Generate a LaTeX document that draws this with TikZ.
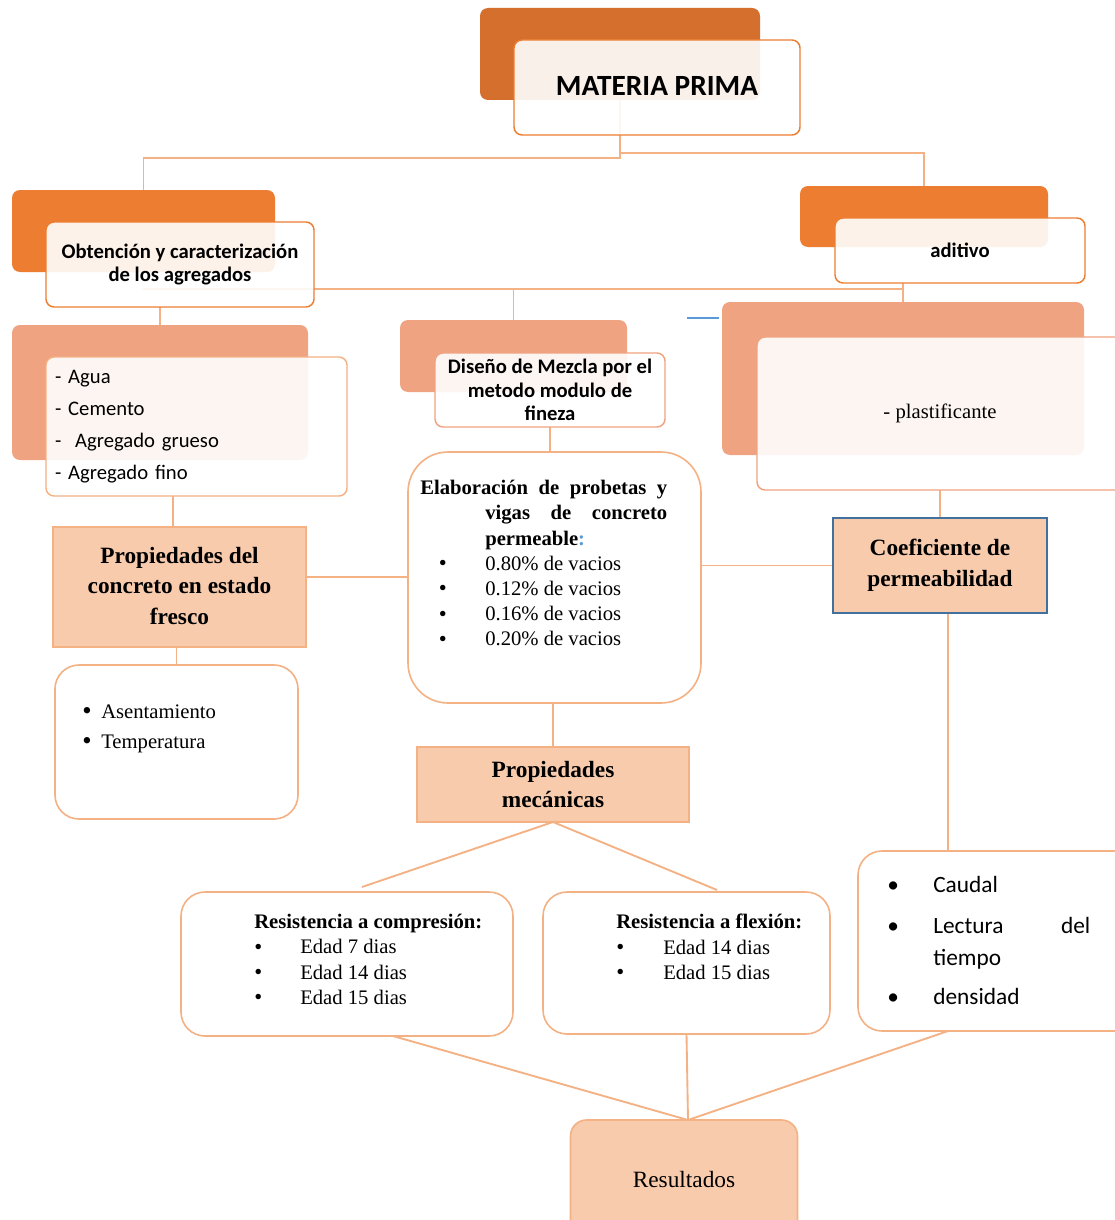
\documentclass[tikz,border=0pt]{standalone}
\usepackage{fontspec}
\setmainfont{Liberation Serif}
\newfontfamily\calibri{Carlito}
\usetikzlibrary{positioning,backgrounds}

\definecolor{dkorange}{RGB}{213,111,46}
\definecolor{midorange}{RGB}{237,125,49}
\definecolor{salmon}{RGB}{240,163,129}
\definecolor{peach}{RGB}{248,203,173}
\definecolor{lineor}{RGB}{244,177,131}
\definecolor{boxblue}{RGB}{65,113,156}
\definecolor{linkblue}{RGB}{91,155,213}

\newcommand\bigbul{\raisebox{-0.3pt}{\fontsize{17pt}{17pt}\selectfont\textbullet}}
\newcommand\wideblt{\raisebox{-0.6pt}{\fontsize{20pt}{20pt}\selectfont\textbullet}}

\tikzset{
	wh/.style 2 args={minimum width=#1*0.75pt,minimum height=#2*0.75pt},
	back/.style={rectangle,rounded corners=6pt,inner sep=0pt,outer sep=0pt},
	front/.style={rectangle,rounded corners=6pt,draw=#1,line width=1.1pt,fill=white,fill opacity=0.9,text opacity=1,inner sep=0pt,outer sep=0pt,align=center},
	front/.default=midorange,
	stitle/.style={font=\calibri\fontsize{15.5pt}{17.5pt}\selectfont\bfseries},
	roundbox/.style={rectangle,rounded corners=#1,draw=lineor,line width=1.2pt,fill=white,inner sep=0pt,outer sep=0pt},
	propbox/.style={rectangle,draw=lineor,line width=1.2pt,fill=peach,inner sep=0pt,outer sep=0pt,align=center,font=\fontsize{17.5pt}{23pt}\selectfont\bfseries},
	txt/.style={anchor=north west,inner sep=0pt,align=left},
	link/.style={draw=lineor,line width=1.4pt}
}

\begin{document}
\begin{tikzpicture}[x=0.75pt,y=-0.75pt]
	\useasboundingbox (0,0) rectangle (1114,1220);

	% upper tier
	\path (620,54) node (mpback) [back,fill=dkorange,wh={280}{92}] {}
		  (657,87.5) node (mpfront) [front,wh={286}{95},font=\calibri\fontsize{22pt}{25pt}\selectfont\bfseries] {\raisebox{2pt}{MATERIA PRIMA}};
	\path (143.5,231) node (obback) [back,fill=midorange,wh={263}{82}] {}
		  (180,264.5) node (obfront) [front,wh={268}{85},stitle] {Obtención y caracterización\\ de los agregados};
	\path (924,216.5) node (adback) [back,fill=midorange,wh={248}{61}] {}
		  (960,250.5) node (adfront) [front,wh={250}{65},stitle] {aditivo};

	% second tier
	\path (160,392.5) node (agback) [back,fill=salmon,wh={296}{135}] {}
		  (196.5,426.5) node (agfront) [front=lineor,wh={301}{139},align=left,text width=212.25pt,inner xsep=6.75pt,font=\calibri\fontsize{15.5pt}{24pt}\selectfont] {- Agua\\ - Cemento\\ -\ \ Agregado grueso\\ - Agregado fino};
	\path (513.5,356) node (disback) [back,fill=salmon,wh={227}{72}] {}
		  (550,390) node (disfront) [front=salmon,wh={230}{74},stitle] {Diseño de Mezcla por el\\ metodo modulo de\\ fineza};
	\path (903,378.5) node (plback) [back,fill=salmon,wh={362}{153}] {}
		  (940,413.5) node (plfront) [front=salmon,wh={366}{153},font=\fontsize{15.5pt}{18pt}\selectfont] {- plastificante};

	% middle
	\path (554.5,577.5) node (elab) [roundbox=30pt,wh={293}{251}] {};
	\path (420,480) node (elabtxt) [txt,font=\fontsize{15.5pt}{18.9pt}\selectfont] {\makebox[185.25pt][s]{\bfseries Elaboración de probetas y}\\
		\hspace*{48.75pt}\makebox[136.5pt][s]{\bfseries vigas de concreto}\\
		\hspace*{48.75pt}\textbf{permeable}\textcolor{linkblue}{\textbf{:}}\\
		\makebox[48.75pt][l]{\hspace*{14pt}\bigbul}0.80\% de vacios\\
		\makebox[48.75pt][l]{\hspace*{14pt}\bigbul}0.12\% de vacios\\
		\makebox[48.75pt][l]{\hspace*{14pt}\bigbul}0.16\% de vacios\\
		\makebox[48.75pt][l]{\hspace*{14pt}\bigbul}0.20\% de vacios};
	\path (179.5,587) node (prfresco) [propbox,wh={253}{120}] {\raisebox{2pt}{Propiedades del}\\ \raisebox{2pt}{concreto en estado}\\ \raisebox{2pt}{fresco}}
		  (176.5,742) node (asent) [roundbox=18pt,wh={243}{154}] {};
	\path (82,705) node (asenttxt) [txt,font=\fontsize{15.5pt}{22.5pt}\selectfont] {\makebox[14.25pt][l]{\wideblt}Asentamiento\\ \makebox[14.25pt][l]{\wideblt}Temperatura};
	\path (940,565.5) node (coef) [propbox,draw=boxblue,line width=1.3pt,wh={214}{95}] {Coeficiente de\\ permeabilidad};
	\path (553,784.5) node (prmec) [propbox,wh={272}{75}] {Propiedades\\ mecánicas};

	% lower tier
	\path (347,964) node (comp) [roundbox=18pt,wh={332}{144}] {}
		  (686.5,963) node (flex) [roundbox=18pt,wh={287}{142}] {}
		  (999,941) node (caudal) [roundbox=18pt,wh={282}{180}] {};
	\path (254,914) node (comptxt) [txt,font=\fontsize{15.5pt}{18.9pt}\selectfont] {\textbf{Resistencia a compresión:}\\
		\makebox[34.5pt][l]{\bigbul}Edad 7 dias\\
		\makebox[34.5pt][l]{\bigbul}Edad 14 dias\\
		\makebox[34.5pt][l]{\bigbul}Edad 15 dias};
	\path (616,914) node (flextxt) [txt,font=\fontsize{15.5pt}{18.9pt}\selectfont] {\textbf{Resistencia a flexión:}\\
		\makebox[35.25pt][l]{\bigbul}Edad 14 dias\\
		\makebox[35.25pt][l]{\bigbul}Edad 15 dias};
	\path (887,876) node (caudaltxt) [txt,font=\calibri\fontsize{17.5pt}{24pt}\selectfont] {\makebox[34.5pt][l]{\textbullet}Caudal\\[6.75pt]
		\makebox[34.5pt][l]{\textbullet}\makebox[117.75pt][s]{Lectura del}\\
		\hspace*{34.5pt}tiempo\\[5pt]
		\makebox[34.5pt][l]{\textbullet}densidad};
	\path (684,1180) node (resul) [propbox,rounded corners=12pt,wh={227}{120},font=\fontsize{17.5pt}{21pt}\selectfont] {Resultados};

	% connectors behind the boxes
	\begin{scope}[on background layer]
		\fill[white] (0,0) rectangle (1114,1220);
		\coordinate (jl) at (620,158);
		\coordinate (jr) at (620,153);
		\coordinate (jb) at (143,289);
		\coordinate (jc) at (903,289);
		\coordinate (bl1) at (687,318);
		\coordinate (bl2) at (719,318);
		\draw[link] (mpback.south) -- (jl) -| (obback.north);
		\draw[link] (jr) -| (adback.north);
		\draw[link] (jb) -- (jc);
		\draw[link] (jb -| disback.north) -- (disback.north);
		\draw[link] (adfront.south -| jc) -- (plback.north);
		\draw[link] (obfront.south -| agback.north) -- (agback.north);
		\draw[link] ([xshift=-17.6pt]agfront.south) -- ++(0,31);
		\draw[link] ([yshift=7.5pt]prfresco.east) -- ([yshift=7.5pt]prfresco.east -| elab.west);
		\draw[link] (prfresco.south -| asent.north) -- (asent.north);
		\draw[link] (disfront.south) -- (disfront.south |- elab.north);
		\draw[link] (elab.south -| prmec.north) -- (prmec.north);
		\draw[link] (elab.east |- coef.west) -- (coef.west);
		\draw[link] (plfront.south -| coef.north) -- (coef.north);
		\draw[link] ([xshift=6pt]coef.south) -- ([xshift=6pt]coef.south |- caudal.north);
		\draw[link] (prmec.south) -- ([xshift=11.25pt,yshift=3.75pt]comp.north);
		\draw[link] (prmec.south) -- ([xshift=22.9pt,yshift=1.5pt]flex.north);
		\draw[link] ([xshift=34.5pt]comp.south) -- ([xshift=3pt]resul.north);
		\draw[link] (flex.south) -- ([xshift=3pt]resul.north);
		\draw[link] ([xshift=6pt]coef.south |- caudal.south) -- ([xshift=3pt]resul.north);
		\draw[linkblue,line width=1pt] (bl1) -- (bl2);
	\end{scope}
\end{tikzpicture}
\end{document}
